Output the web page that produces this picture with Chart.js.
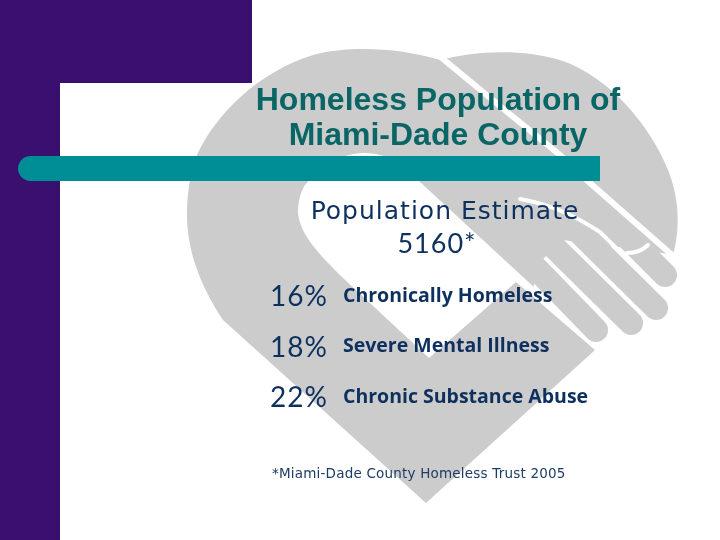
<!DOCTYPE html>
<html>
<head>
<meta charset="utf-8">
<title>Homeless Population of Miami-Dade County</title>
<script src="https://cdn.jsdelivr.net/npm/chart.js@4"></script>
<style>
    html, body { margin: 0; padding: 0; background: #fff; }
    #wrap { width: 720px; height: 540px; position: relative; }
</style>
</head>
<body>
<div id="wrap"><canvas id="myChart"></canvas></div>
<script>
const titleLines = ['Homeless Population of', 'Miami-Dade County'];
const estimateLines = ['Population Estimate', '5160*'];
const categories = ['Chronically Homeless', 'Severe Mental Illness', 'Chronic Substance Abuse'];
const percentages = [16, 18, 22];
const footnote = '*Miami-Dade County Homeless Trust 2005';

const purple = '#39106f';
const teal = '#008e96';
const grey = '#cccccc';
const navy = '#0d305e';
const titleColor = '#0a6666';

function drawText(c, text, x, y, font, color, align, spacing) {
    c.font = font;
    c.fillStyle = color;
    c.textAlign = align;
    c.textBaseline = 'alphabetic';
    c.letterSpacing = spacing || '0px';
    c.fillText(text, x, y);
    c.letterSpacing = '0px';
}

function finger(c, x1, y1, x2, y2) {
    c.beginPath();
    c.moveTo(x1, y1);
    c.lineTo(x2, y2);
    c.stroke();
}

// the handshake heart behind the text
function drawHeart(c) {
    c.fillStyle = grey;
    c.beginPath();
    c.moveTo(197, 155);
    c.bezierCurveTo(215, 115, 258, 72, 313, 55);
    c.bezierCurveTo(350, 45, 400, 48, 440, 60);
    c.bezierCurveTo(470, 52, 520, 47, 563, 61);
    c.bezierCurveTo(610, 78, 650, 125, 668, 170);
    c.bezierCurveTo(680, 200, 680, 230, 673, 255);
    c.lineTo(645, 250);
    c.lineTo(600, 245);
    c.lineTo(563, 240);
    c.lineTo(542, 260);
    c.lineTo(533, 288);
    c.lineTo(595, 350);
    c.lineTo(426, 503);
    c.lineTo(223, 320);
    c.bezierCurveTo(200, 285, 187, 250, 187, 215);
    c.bezierCurveTo(187, 195, 190, 172, 197, 155);
    c.closePath();
    c.fill();

    // hollow between the two arms
    c.fillStyle = '#fff';
    c.beginPath();
    c.moveTo(305, 185);
    c.bezierCurveTo(325, 162, 345, 153, 365, 153);
    c.bezierCurveTo(390, 153, 405, 168, 420, 182);
    c.lineTo(600, 348);
    c.lineTo(595, 350);
    c.lineTo(516, 282);
    c.lineTo(429, 358);
    c.lineTo(343, 278);
    c.bezierCurveTo(320, 255, 300, 235, 298, 213);
    c.bezierCurveTo(298, 203, 300, 193, 305, 185);
    c.closePath();
    c.fill();

    c.strokeStyle = grey;
    c.lineWidth = 24;
    c.lineCap = 'round';
    finger(c, 530, 262, 596, 330);
    finger(c, 555, 248, 631, 323);
    finger(c, 575, 228, 656, 308);
    finger(c, 625, 235, 665, 275);

    // white gaps over the grey
    c.strokeStyle = '#fff';
    c.lineWidth = 6;
    c.beginPath();
    c.moveTo(437, 54);
    c.lineTo(506, 111);
    c.lineTo(560, 155);
    c.lineTo(590, 183);
    c.lineTo(680, 262);
    c.stroke();

    c.lineWidth = 4;
    c.beginPath();
    c.moveTo(520, 199);
    c.bezierCurveTo(555, 205, 578, 218, 600, 232);
    c.lineTo(670, 301);
    c.stroke();

    c.beginPath();
    c.moveTo(627, 253);
    c.quadraticCurveTo(640, 253, 648, 245);
    c.stroke();
}

const slideDecor = {
    id: 'slideDecor',
    beforeDraw(chart) {
        const c = chart.ctx;
        c.save();
        c.fillStyle = '#fff';
        c.fillRect(0, 0, 720, 540);
        drawHeart(c);
        c.fillStyle = purple;
        c.fillRect(0, 0, 252, 83);
        c.fillRect(0, 0, 60, 540);
        c.fillStyle = teal;
        c.beginPath();
        c.roundRect(18, 156, 582, 25, [12.5, 0, 0, 12.5]);
        c.fill();
        c.restore();
    },
    afterDraw(chart) {
        const c = chart.ctx;
        const y = chart.scales.y;
        c.save();
        drawText(c, titleLines[0], 438, 110, 'bold 32px "Liberation Sans"', titleColor, 'center');
        drawText(c, titleLines[1], 438, 145, 'bold 32px "Liberation Sans"', titleColor, 'center');
        drawText(c, estimateLines[0], 445, 219, '25px "DejaVu Sans"', navy, 'center', '1px');
        drawText(c, estimateLines[1], 437, 253, '27px Lato', navy, 'center', '1px');
        percentages.forEach((p, i) => {
            drawText(c, p + '%', 328, y.getPixelForValue(i) + 10, '28px Lato', navy, 'right', '1px');
        });
        drawText(c, footnote, 272, 478, '13.5px "DejaVu Sans"', '#1d3c66', 'left', '0.2px');
        c.restore();
    }
};

const ctx = document.getElementById('myChart').getContext('2d');

const myChart = new Chart(ctx, {
    type: 'bar',
    data: {
        labels: categories,
        datasets: [{
            label: 'Share of population',
            data: percentages,
            backgroundColor: 'transparent'
        }]
    },
    options: {
        indexAxis: 'y',
        responsive: true,
        maintainAspectRatio: false,
        animation: false,
        layout: { padding: { left: 343, top: 271, bottom: 117.5, right: 0 } },
        plugins: {
            legend: { display: false },
            title: { display: false },
            tooltip: { enabled: false }
        },
        scales: {
            x: { display: false, min: 0, max: 100 },
            y: {
                afterFit(scale) { scale.width = 300; },
                grid: { display: false },
                border: { display: false },
                ticks: {
                    autoSkip: false,
                    crossAlign: 'far',
                    padding: 0,
                    color: navy,
                    font: { family: '"Open Sans"', size: 19.5, weight: 'bold' }
                }
            }
        }
    },
    plugins: [slideDecor]
});
</script>
</body>
</html>
